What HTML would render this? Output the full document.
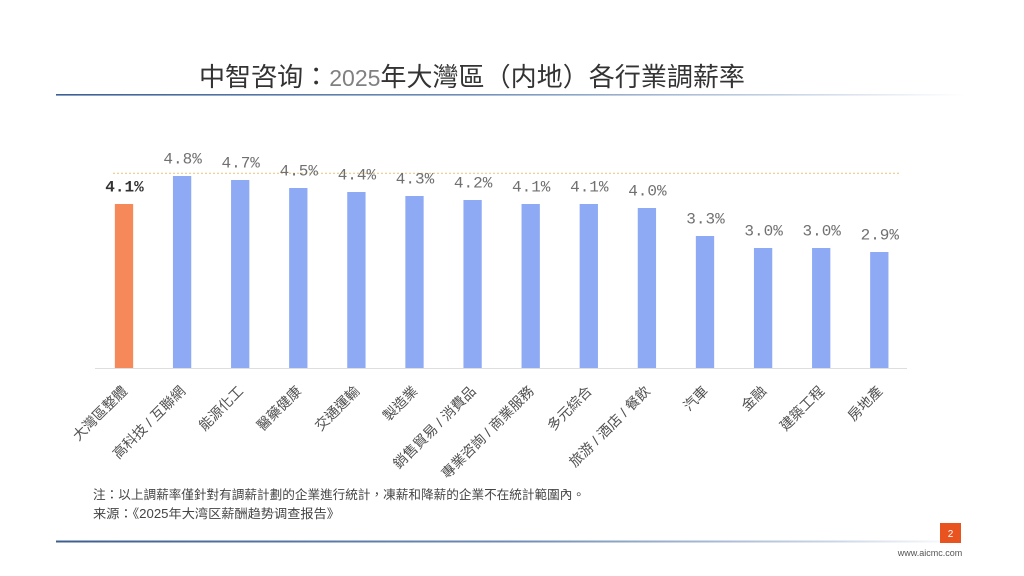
<!DOCTYPE html>
<html>
<head>
<meta charset="utf-8">
<style>
  html,body{margin:0;padding:0;background:#fff;}
  body{width:1024px;height:576px;overflow:hidden;}
  svg{display:block;}
  .cjk{font-family:"Liberation Sans","Noto Sans CJK TC","Noto Sans CJK SC",sans-serif;}
  .val{font-family:"Liberation Mono","DejaVu Sans Mono",monospace;font-size:16px;fill:#707070;text-anchor:middle;}
  .cat{font-family:"Liberation Sans","Noto Sans CJK TC",sans-serif;font-size:14px;fill:#505050;text-anchor:end;}
</style>
</head>
<body>
<svg width="1024" height="576" viewBox="0 0 1024 576" xmlns="http://www.w3.org/2000/svg">
  <defs>
    <linearGradient id="lg1" x1="0" x2="1" y1="0" y2="0">
      <stop offset="0" stop-color="#3a5f95"/>
      <stop offset="0.45" stop-color="#6f8db8"/>
      <stop offset="0.8" stop-color="#c7d3e4"/>
      <stop offset="1" stop-color="#ffffff"/>
    </linearGradient>
    <linearGradient id="lg2" x1="0" x2="1" y1="0" y2="0">
      <stop offset="0" stop-color="#3e5f8e"/>
      <stop offset="0.5" stop-color="#6e8cb5"/>
      <stop offset="0.85" stop-color="#c9d5e5"/>
      <stop offset="1" stop-color="#ffffff"/>
    </linearGradient>
  </defs>

  <!-- Title -->
  <text x="199" y="86" class="cjk" font-size="26" fill="#333" textLength="546" lengthAdjust="spacingAndGlyphs">中智咨询：<tspan fill="#808080" font-size="23" font-family="Liberation Sans, sans-serif">2025</tspan>年大灣區（内地）各行業調薪率</text>
  <rect x="56" y="94" width="910" height="1.6" fill="url(#lg1)"/>

  <!-- dashed reference line -->
  <line x1="113" y1="173.3" x2="901" y2="173.3" stroke="#e6c477" stroke-width="1" stroke-dasharray="2,2"/>

  <!-- axis -->
  <line x1="95" y1="368.5" x2="907" y2="368.5" stroke="#dedede" stroke-width="1"/>

  <!-- bars -->
  <rect x="114.85" y="204" width="18.3" height="164" fill="#f6895a"/>
  <rect x="172.95" y="176" width="18.3" height="192" fill="#8eaaf5"/>
  <rect x="231.05" y="180" width="18.3" height="188" fill="#8eaaf5"/>
  <rect x="289.15" y="188" width="18.3" height="180" fill="#8eaaf5"/>
  <rect x="347.25" y="192" width="18.3" height="176" fill="#8eaaf5"/>
  <rect x="405.35" y="196" width="18.3" height="172" fill="#8eaaf5"/>
  <rect x="463.45" y="200" width="18.3" height="168" fill="#8eaaf5"/>
  <rect x="521.55" y="204" width="18.3" height="164" fill="#8eaaf5"/>
  <rect x="579.65" y="204" width="18.3" height="164" fill="#8eaaf5"/>
  <rect x="637.75" y="208" width="18.3" height="160" fill="#8eaaf5"/>
  <rect x="695.85" y="236" width="18.3" height="132" fill="#8eaaf5"/>
  <rect x="753.95" y="248" width="18.3" height="120" fill="#8eaaf5"/>
  <rect x="812.05" y="248" width="18.3" height="120" fill="#8eaaf5"/>
  <rect x="870.15" y="252" width="18.3" height="116" fill="#8eaaf5"/>

  <!-- value labels -->
  <text class="val" x="124.5" y="191.5" style="fill:#333;font-weight:bold">4.1%</text>
  <text class="val" x="182.6" y="163.5">4.8%</text>
  <text class="val" x="240.7" y="167.5">4.7%</text>
  <text class="val" x="298.8" y="175.5">4.5%</text>
  <text class="val" x="356.9" y="179.5">4.4%</text>
  <text class="val" x="415.0" y="183.5">4.3%</text>
  <text class="val" x="473.1" y="187.5">4.2%</text>
  <text class="val" x="531.2" y="191.5">4.1%</text>
  <text class="val" x="589.3" y="191.5">4.1%</text>
  <text class="val" x="647.4" y="195.5">4.0%</text>
  <text class="val" x="705.5" y="223.5">3.3%</text>
  <text class="val" x="763.6" y="235.5">3.0%</text>
  <text class="val" x="821.7" y="235.5">3.0%</text>
  <text class="val" x="879.8" y="239.5">2.9%</text>

  <!-- category labels -->
  <text class="cat" transform="translate(128,392) rotate(-45)">大灣區整體</text>
  <text class="cat" transform="translate(186.1,392) rotate(-45)">高科技 / 互聯網</text>
  <text class="cat" transform="translate(244.2,392) rotate(-45)">能源化工</text>
  <text class="cat" transform="translate(302.3,392) rotate(-45)">醫藥健康</text>
  <text class="cat" transform="translate(360.4,392) rotate(-45)">交通運輸</text>
  <text class="cat" transform="translate(418.5,392) rotate(-45)">製造業</text>
  <text class="cat" transform="translate(476.6,392) rotate(-45)">銷售貿易 / 消費品</text>
  <text class="cat" transform="translate(534.7,392) rotate(-45)">專業咨詢 / 商業服務</text>
  <text class="cat" transform="translate(592.8,392) rotate(-45)">多元綜合</text>
  <text class="cat" transform="translate(650.9,392) rotate(-45)">旅游 / 酒店 / 餐飲</text>
  <text class="cat" transform="translate(709,392) rotate(-45)">汽車</text>
  <text class="cat" transform="translate(767.1,392) rotate(-45)">金融</text>
  <text class="cat" transform="translate(825.2,392) rotate(-45)">建築工程</text>
  <text class="cat" transform="translate(883.3,392) rotate(-45)">房地產</text>

  <!-- notes -->
  <text x="93" y="499" class="cjk" font-size="12.5" fill="#444" textLength="492" lengthAdjust="spacingAndGlyphs">注：以上調薪率僅針對有調薪計劃的企業進行統計，凍薪和降薪的企業不在統計範圍內。</text>
  <text x="93" y="518" class="cjk" font-size="12.5" fill="#444" textLength="247" lengthAdjust="spacingAndGlyphs">来源：《2025年大湾区薪酬趋势调查报告》</text>

  <!-- bottom line -->
  <rect x="56" y="540.5" width="910" height="2" fill="url(#lg2)"/>

  <!-- page badge -->
  <rect x="940" y="523" width="21" height="20" fill="#e8531f"/>
  <text x="950.5" y="537" font-family="Liberation Sans, sans-serif" font-size="10" fill="#fff" text-anchor="middle">2</text>
  <text x="930" y="556" font-family="Liberation Sans, sans-serif" font-size="9" fill="#555" text-anchor="middle">www.aicmc.com</text>
</svg>
</body>
</html>
